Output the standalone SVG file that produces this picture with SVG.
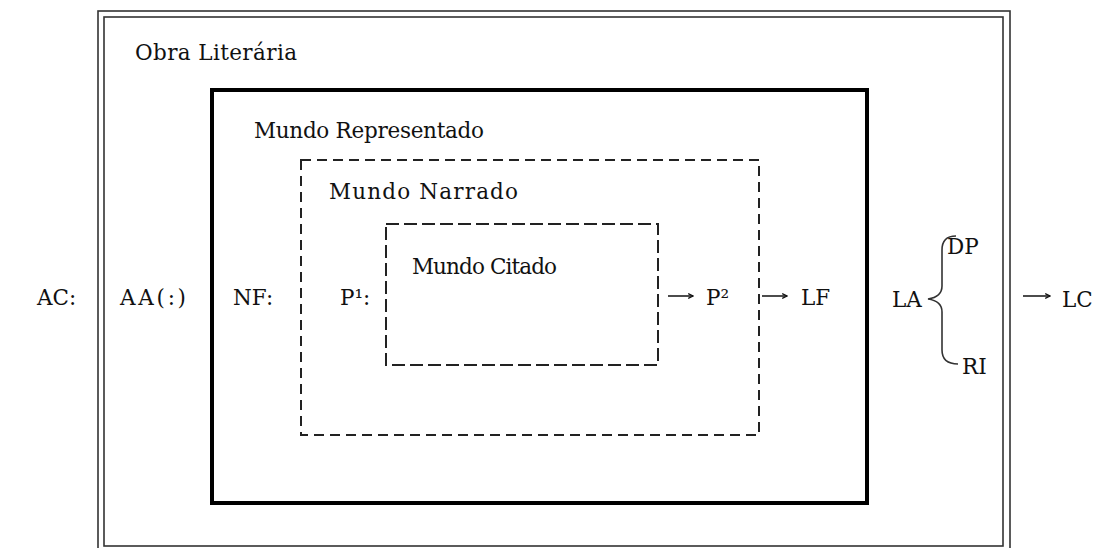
<svg xmlns="http://www.w3.org/2000/svg" width="1098" height="548" viewBox="0 0 1098 548">
<defs>
<marker id="ah" viewBox="0 0 10 10" refX="9" refY="5" markerWidth="6" markerHeight="6" orient="auto" markerUnits="userSpaceOnUse">
<path d="M1,1 L9,5 L1,9" fill="none" stroke="#111" stroke-width="2"/>
</marker>
</defs>
<style>
text{font-family:"DejaVu Serif","Liberation Serif",serif;font-size:21.5px;fill:#111}
.thin{fill:none;stroke:#333;stroke-width:1.6}
.thick{fill:none;stroke:#000;stroke-width:4}
.dash1{fill:none;stroke:#222;stroke-width:2;stroke-dasharray:10 6}
.dash2{fill:none;stroke:#222;stroke-width:2;stroke-dasharray:13 5}
.arr{stroke:#111;stroke-width:1.5;fill:none;marker-end:url(#ah)}
.brace{fill:none;stroke:#333;stroke-width:1.6}
</style>
<rect width="1098" height="548" fill="#fff"/>
<g id="obra-literaria">
<rect class="thin" x="98" y="11" width="912" height="545"/>
<rect class="thin" x="104" y="17" width="899" height="529"/>
<text x="135" y="60" textLength="162">Obra Literária</text>
</g>
<g id="mundo-representado">
<rect class="thick" x="212" y="90" width="655" height="413"/>
<text x="254" y="138" textLength="230">Mundo Representado</text>
</g>
<g id="mundo-narrado">
<rect class="dash1" x="301" y="160" width="458" height="275"/>
<text x="329" y="199" textLength="189">Mundo Narrado</text>
</g>
<g id="mundo-citado">
<rect class="dash2" x="386" y="224" width="272" height="141"/>
<text x="412" y="274" textLength="145">Mundo Citado</text>
</g>
<g id="labels">
<text id="ac" x="37" y="305">AC:</text>
<text id="aa" x="120" y="305" textLength="66">AA(:)</text>
<text id="nf" x="233" y="305">NF:</text>
<text id="p1" x="340" y="305">P¹:</text>
<text id="p2" x="706" y="305">P²</text>
<text id="lf" x="801" y="305">LF</text>
<text id="la" x="892" y="307">LA</text>
<text id="dp" x="947" y="254">DP</text>
<text id="ri" x="962" y="374">RI</text>
<text id="lc" x="1062" y="307">LC</text>
</g>
<g id="connectors">
<line class="arr" x1="668" y1="296" x2="693" y2="296"/>
<line class="arr" x1="762" y1="296" x2="787" y2="296"/>
<line class="arr" x1="1023" y1="296" x2="1050" y2="296"/>
<path class="brace" d="M956,236 Q942,236 942,250 L942,286 Q942,297 928,299 Q942,301 942,312 L942,350 Q942,364 958,364"/>
</g>
</svg>
